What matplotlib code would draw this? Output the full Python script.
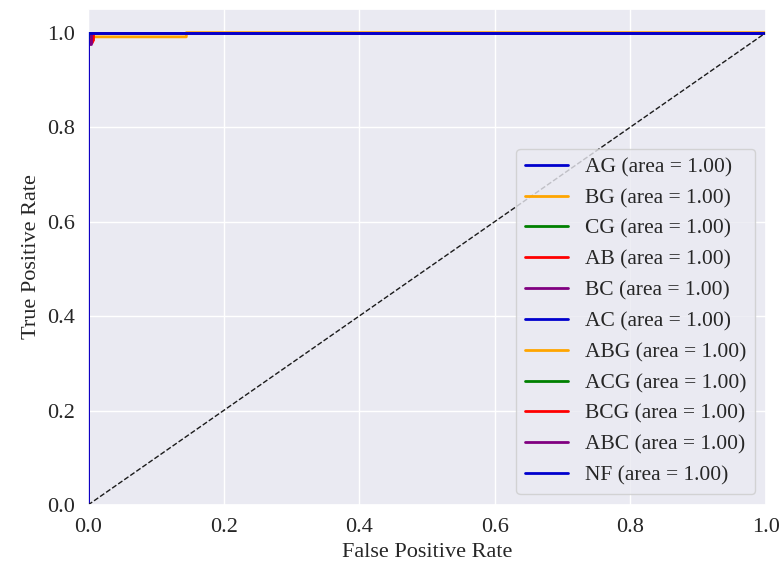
import matplotlib
matplotlib.use("Agg")
from matplotlib import pyplot as plt
import seaborn as sns

sns.set_theme(style="darkgrid")
plt.rcParams['font.family'] = ['Liberation Serif', 'DejaVu Serif']

# ROC points per class (fpr, tpr)
classes = ["AG", "BG", "CG", "AB", "BC", "AC", "ABG", "ACG", "BCG", "ABC", "NF"]
colors = ["mediumblue", "orange", "green", "red", "purple",
          "mediumblue", "orange", "green", "red", "purple", "mediumblue"]
aucs = [1.00] * 11

fpr = {
    "AG":  [0.0, 0.0, 0.0, 1.0],
    "BG":  [0.0, 0.0, 0.004, 0.145, 0.145, 1.0],
    "CG":  [0.0, 0.0, 0.003, 0.003, 1.0],
    "AB":  [0.0, 0.0, 0.006, 0.006, 1.0],
    "BC":  [0.0, 0.0, 0.004, 0.004, 1.0],
    "AC":  [0.0, 0.0, 0.002, 0.002, 1.0],
    "ABG": [0.0, 0.0, 0.003, 0.003, 1.0],
    "ACG": [0.0, 0.0, 0.002, 0.002, 1.0],
    "BCG": [0.0, 0.0, 0.008, 0.008, 1.0],
    "ABC": [0.0, 0.0, 0.005, 0.005, 1.0],
    "NF":  [0.0, 0.0, 0.0, 1.0],
}
tpr = {
    "AG":  [0.0, 0.94, 1.0, 1.0],
    "BG":  [0.0, 0.97, 0.991, 0.991, 1.0, 1.0],
    "CG":  [0.0, 0.99, 0.99, 1.0, 1.0],
    "AB":  [0.0, 0.98, 0.98, 1.0, 1.0],
    "BC":  [0.0, 0.975, 0.975, 1.0, 1.0],
    "AC":  [0.0, 0.99, 0.99, 1.0, 1.0],
    "ABG": [0.0, 0.985, 0.985, 1.0, 1.0],
    "ACG": [0.0, 0.99, 0.99, 1.0, 1.0],
    "BCG": [0.0, 0.985, 0.985, 1.0, 1.0],
    "ABC": [0.0, 0.98, 0.98, 1.0, 1.0],
    "NF":  [0.0, 0.99, 1.0, 1.0],
}

fig = plt.figure(figsize=(7.81, 5.64), dpi=100)
ax = fig.add_axes([88 / 781, 59 / 564, 678 / 781, 496 / 564])

for name, c, a in zip(classes, colors, aucs):
    ax.plot(fpr[name], tpr[name], color=c, lw=2,
            label=f"{name} (area = {a:.2f})")

ax.plot([0, 1], [0, 1], "k--", lw=1)
ax.set_xlim(0.0, 1.0)
ax.set_ylim(0.0, 1.05)
ax.set_xlabel("False Positive Rate", fontsize=16)
ax.set_ylabel("True Positive Rate", fontsize=16)
ax.tick_params(labelsize=16)
ax.legend(loc="lower right", fontsize=15.5, labelspacing=0.5)

fig.savefig("out.png", dpi=100)
